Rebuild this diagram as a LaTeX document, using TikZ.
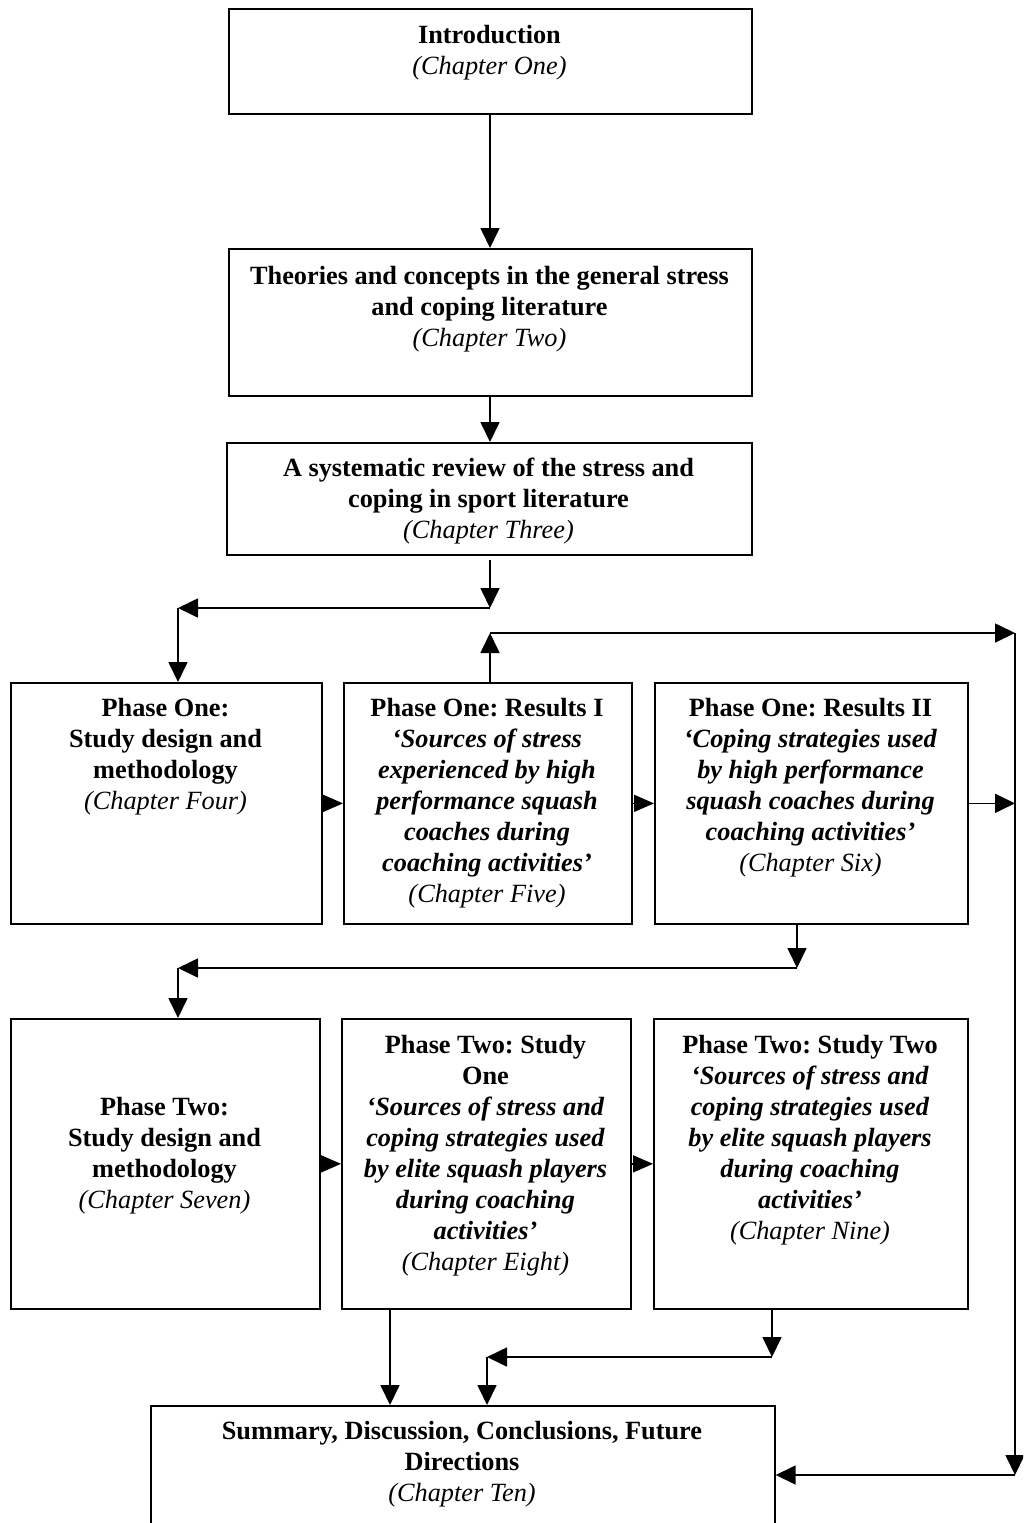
\documentclass[tikz,border=0pt]{standalone}
\usepackage{fontspec}
\setmainfont{Liberation Serif}
\usetikzlibrary{arrows.meta,calc}
\frenchspacing
\begin{document}
\begin{tikzpicture}[x=1pt,y=-1pt,
  box/.style={draw, line width=1.7pt, inner sep=0pt, anchor=north west},
  txt/.style={anchor=north, align=center, inner sep=0pt, font=\fontsize{26.3}{31}\selectfont},
  arr/.style={line width=1.7pt, -{Triangle[length=20pt,width=19pt]}},
  sarr/.style={line width=1.7pt, -{Triangle[length=20pt,width=17pt]}}]
\useasboundingbox (0,0) rectangle (1023,1523);
\clip (0,0) rectangle (1023,1523);
% boxes
\node[box, minimum width=523pt, minimum height=105pt] (intro) at (228,8) {};
\node[box, minimum width=523pt, minimum height=147pt] (theo) at (228,248) {};
\node[box, minimum width=525pt, minimum height=112pt] (rev) at (226,442) {};
\node[box, minimum width=311pt, minimum height=241pt] (p4) at (10,682) {};
\node[box, minimum width=288pt, minimum height=241pt] (p5) at (343,682) {};
\node[box, minimum width=313pt, minimum height=241pt] (p6) at (654,682) {};
\node[box, minimum width=309pt, minimum height=290pt] (p7) at (10,1018) {};
\node[box, minimum width=289pt, minimum height=290pt] (p8) at (341,1018) {};
\node[box, minimum width=314pt, minimum height=290pt] (p9) at (653,1018) {};
\node[box, minimum width=624pt, minimum height=140pt] (sum) at (150,1405) {};
% texts
\node[txt] (introt) at (489.5,25) {\textbf{Introduction}\\\textit{(Chapter One)}};
\node[txt] (theot) at (489.5,266) {\textbf{Theories and concepts in the general stress}\\\textbf{and coping literature}\\\textit{(Chapter Two)}};
\node[txt] (revt) at (488.5,458) {\textbf{A systematic review of the stress and}\\\textbf{coping in sport literature}\\\textit{(Chapter Three)}};
\node[txt] (p4t) at (165.5,698) {\textbf{Phase One:}\\\textbf{Study design and}\\\textbf{methodology}\\\textit{(Chapter Four)}};
\node[txt] (p5t) at (487,698) {\textbf{Phase One: Results I}\\\textbf{\textit{‘Sources of stress}}\\\textbf{\textit{experienced by high}}\\\textbf{\textit{performance squash}}\\\textbf{\textit{coaches during}}\\\textbf{\textit{coaching activities’}}\\\textit{(Chapter Five)}};
\node[txt] (p6t) at (810.5,698) {\textbf{Phase One: Results II}\\\textbf{\textit{‘Coping strategies used}}\\\textbf{\textit{by high performance}}\\\textbf{\textit{squash coaches during}}\\\textbf{\textit{coaching activities’}}\\\textit{(Chapter Six)}};
\node[txt] (p7t) at (164.5,1097) {\textbf{Phase Two:}\\\textbf{Study design and}\\\textbf{methodology}\\\textit{(Chapter Seven)}};
\node[txt] (p8t) at (485.5,1035) {\textbf{Phase Two: Study}\\\textbf{One}\\\textbf{\textit{‘Sources of stress and}}\\\textbf{\textit{coping strategies used}}\\\textbf{\textit{by elite squash players}}\\\textbf{\textit{during coaching}}\\\textbf{\textit{activities’}}\\\textit{(Chapter Eight)}};
\node[txt] (p9t) at (810,1035) {\textbf{Phase Two: Study Two}\\\textbf{\textit{‘Sources of stress and}}\\\textbf{\textit{coping strategies used}}\\\textbf{\textit{by elite squash players}}\\\textbf{\textit{during coaching}}\\\textbf{\textit{activities’}}\\\textit{(Chapter Nine)}};
\node[txt] (sumt) at (462,1421) {\textbf{Summary, Discussion, Conclusions, Future}\\\textbf{Directions}\\\textit{(Chapter Ten)}};
% junction coordinates
\coordinate (a0) at (490,560);
\coordinate (a1) at (490,608);
\coordinate (a2) at (178,608);
\coordinate (k1) at (490,633);
\coordinate (k2) at (1015,633);
\coordinate (k3) at (1015,1475);
\coordinate (b1) at (797,968);
\coordinate (b2) at (178,968);
\coordinate (c0) at (390,1308);
\coordinate (c1) at (772,1357);
\coordinate (c2) at (487,1357);
% connectors
\draw[arr] (intro.south -| 490,0) -- (490,248);
\draw[arr] (theo.south -| 490,0) -- (490,442);
\draw[arr] (a0) -- (a1);
\draw[arr] (a1) -- (a2);
\draw[arr] (a2) -- (a2 |- p4.north);
\draw[arr] (p5.north -| k1) -- (k1);
\draw[arr] (k1) -- (k2);
\draw[arr] (k2) -- (k3);
\draw[arr] (k3) -- (k3 -| sum.east);
\draw[sarr] (p4.east) -- (p5.west);
\draw[sarr] (p5.east) -- (p6.west);
\draw[arr] (p6.east) -- (p6.east -| k2);
\draw[arr] (p6.south -| b1) -- (b1);
\draw[arr] (b1) -- (b2);
\draw[arr] (b2) -- (b2 |- p7.north);
\draw[sarr] (p7.east) -- (p8.west);
\draw[sarr] (p8.east) -- (p9.west);
\draw[arr] (c0) -- (c0 |- sum.north);
\draw[arr] (p9.south -| c1) -- (c1);
\draw[arr] (c1) -- (c2);
\draw[arr] (c2) -- (c2 |- sum.north);
\end{tikzpicture}
\end{document}
